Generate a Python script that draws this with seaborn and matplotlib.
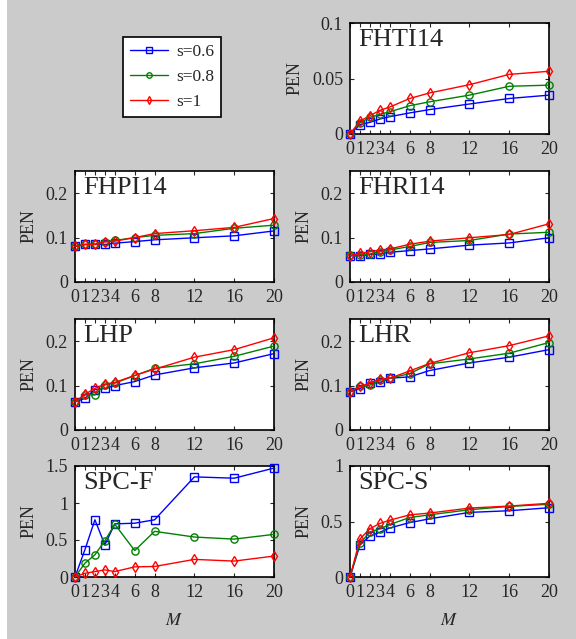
import numpy as np
import pandas as pd
import seaborn as sns
import matplotlib.pyplot as plt
from matplotlib.patches import Rectangle

# x positions (number of M)
M = [0, 1, 2, 3, 4, 6, 8, 12, 16, 20]
s_labels = ["s=0.6", "s=0.8", "s=1"]

# PEN values per panel, per s
fhti14_s06 = [0, 0.0084, 0.0105, 0.0135, 0.0156, 0.019, 0.022, 0.027, 0.032, 0.035]
fhti14_s08 = [0, 0.010, 0.015, 0.0177, 0.020, 0.0255, 0.029, 0.035, 0.043, 0.044]
fhti14_s1 = [0, 0.0117, 0.0165, 0.0213, 0.0243, 0.032, 0.037, 0.0444, 0.0537, 0.0565]

fhpi14_s06 = [0.080, 0.0845, 0.0845, 0.0845, 0.0875, 0.091, 0.095, 0.0996, 0.104, 0.115]
fhpi14_s08 = [0.080, 0.0845, 0.085, 0.0905, 0.0935, 0.100, 0.105, 0.109, 0.121, 0.128]
fhpi14_s1 = [0.080, 0.0845, 0.085, 0.0905, 0.092, 0.100, 0.109, 0.1155, 0.123, 0.143]

fhri14_s06 = [0.059, 0.059, 0.062, 0.063, 0.067, 0.0707, 0.0745, 0.083, 0.088, 0.0996]
fhri14_s08 = [0.060, 0.0615, 0.063, 0.068, 0.072, 0.080, 0.089, 0.0935, 0.108, 0.112]
fhri14_s1 = [0.059, 0.0646, 0.068, 0.072, 0.0745, 0.085, 0.092, 0.0996, 0.107, 0.131]

lhp_s06 = [0.063, 0.0715, 0.091, 0.0935, 0.100, 0.109, 0.124, 0.140, 0.151, 0.172]
lhp_s08 = [0.063, 0.079, 0.079, 0.102, 0.1057, 0.1224, 0.139, 0.149, 0.166, 0.189]
lhp_s1 = [0.063, 0.0806, 0.0935, 0.1034, 0.107, 0.123, 0.137, 0.164, 0.181, 0.2076]

lhr_s06 = [0.0857, 0.0934, 0.105, 0.107, 0.1166, 0.1197, 0.134, 0.151, 0.164, 0.181]
lhr_s08 = [0.0857, 0.098, 0.101, 0.112, 0.1166, 0.127, 0.149, 0.160, 0.173, 0.197]
lhr_s1 = [0.0857, 0.098, 0.106, 0.114, 0.1166, 0.133, 0.150, 0.174, 0.190, 0.212]

spcf_s06 = [0, 0.37, 0.773, 0.434, 0.718, 0.727, 0.773, 1.353, 1.335, 1.472]
spcf_s08 = [0, 0.187, 0.30, 0.49, 0.713, 0.357, 0.617, 0.54, 0.512, 0.576]
spcf_s1 = [0, 0.05, 0.073, 0.096, 0.073, 0.137, 0.142, 0.238, 0.215, 0.283]

spcs_s06 = [0, 0.288, 0.37, 0.403, 0.442, 0.49, 0.524, 0.582, 0.597, 0.624]
spcs_s08 = [0, 0.303, 0.406, 0.433, 0.473, 0.536, 0.56, 0.606, 0.636, 0.655]
spcs_s1 = [0, 0.342, 0.436, 0.482, 0.512, 0.56, 0.576, 0.621, 0.639, 0.664]

panels = [
    # name, series, ymax, yticks, yticklabels, slot (row, col)
    ("FHTI14", [fhti14_s06, fhti14_s08, fhti14_s1], 0.1, [0, 0.05, 0.1], ["0", "0.05", "0.1"], (0, 1)),
    ("FHPI14", [fhpi14_s06, fhpi14_s08, fhpi14_s1], 0.25, [0, 0.1, 0.2], ["0", "0.1", "0.2"], (1, 0)),
    ("FHRI14", [fhri14_s06, fhri14_s08, fhri14_s1], 0.25, [0, 0.1, 0.2], ["0", "0.1", "0.2"], (1, 1)),
    ("LHP", [lhp_s06, lhp_s08, lhp_s1], 0.25, [0, 0.1, 0.2], ["0", "0.1", "0.2"], (2, 0)),
    ("LHR", [lhr_s06, lhr_s08, lhr_s1], 0.25, [0, 0.1, 0.2], ["0", "0.1", "0.2"], (2, 1)),
    ("SPC-F", [spcf_s06, spcf_s08, spcf_s1], 1.5, [0, 0.5, 1, 1.5], ["0", "0.5", "1", "1.5"], (3, 0)),
    ("SPC-S", [spcs_s06, spcs_s08, spcs_s1], 1.0, [0, 0.5, 1], ["0", "0.5", "1"], (3, 1)),
]

colors = ["#0000ff", "#008000", "#ff0000"]
markers = ["s", "o", "d"]
msizes = [5.2, 5.2, 5.0]

sns.set_style("ticks")
plt.rcParams["font.family"] = ["Liberation Serif", "DejaVu Serif"]
plt.rcParams["mathtext.fontset"] = "stix"

W, H = 576, 639
fig = plt.figure(figsize=(W / 100, H / 100), dpi=100, facecolor="white")
fig.patches.append(Rectangle((7 / W, 0), 1 - 7 / W, 1, transform=fig.transFigure,
                             facecolor="#cbcbcb", edgecolor="none", zorder=-10))

# axes boxes in pixels: left x for each column, top y for each row
col_left = [75, 350]
row_top = [23, 171, 319, 466]
ax_w, ax_h = 199, 111

handles = None
for name, series, ymax, yticks, ylabels, (r, c) in panels:
    x0 = col_left[c]
    y0 = row_top[r]
    ax = fig.add_axes([x0 / W, 1 - (y0 + ax_h) / H, ax_w / W, ax_h / H])
    ax.set_facecolor("white")
    for vals, lab, col, mk, ms in zip(series, s_labels, colors, markers, msizes):
        df = pd.DataFrame({"M": M, "PEN": vals})
        sns.lineplot(data=df, x="M", y="PEN", ax=ax, color=col, marker=mk,
                     markersize=ms, markerfacecolor="none", markeredgecolor=col,
                     markeredgewidth=1.0, linewidth=1.0, label=lab, legend=False,
                     clip_on=False, zorder=3)
    ax.set_xlim(0, 20)
    ax.set_ylim(0, ymax)
    ax.set_xticks(M)
    ax.set_xticklabels([str(m) for m in M], fontsize=13)
    ax.set_yticks(yticks)
    ax.set_yticklabels(ylabels, fontsize=13)
    ax.tick_params(direction="in", length=3, width=0.8, top=True, right=True, pad=5)
    # only the bottom row shows its x label; upper ones sit under the next row
    ax.set_xlabel("$M$" if r == 3 else "", fontsize=13, labelpad=8)
    ax.set_ylabel("PEN", fontsize=13, labelpad=6)
    for sp in ax.spines.values():
        sp.set_linewidth(1.2)
        sp.set_color("black")
    ax.text(0.04, 0.95, name, transform=ax.transAxes, ha="left", va="top", fontsize=19)
    if handles is None:
        handles, _ = ax.get_legend_handles_labels()

leg = fig.legend(handles, s_labels, loc="upper left",
                 bbox_to_anchor=(123 / W, 1 - 37 / H), borderaxespad=0, fontsize=12.5,
                 frameon=True, fancybox=False, edgecolor="black", framealpha=1,
                 handlelength=2.2, handletextpad=0.45, borderpad=0.4, labelspacing=0.5,
                 markerscale=0.75)
leg.get_frame().set_linewidth(1.2)

fig.savefig("out.png", dpi=100, facecolor=fig.get_facecolor())
